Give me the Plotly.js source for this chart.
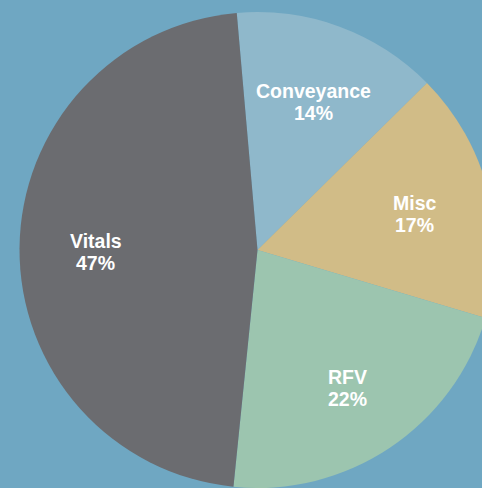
<!DOCTYPE html>
<html>
<head>
<meta charset="utf-8">
<script src="https://cdn.plot.ly/plotly-3.0.1.min.js"></script>
<style>
html,body{margin:0;padding:0;overflow:hidden;background:#6fa7c2;}
#chart{width:496px;height:488px;}
</style>
</head>
<body>
<div id="chart"></div>
<script>
const categories = ["Conveyance", "Misc", "RFV", "Vitals"];
const shares = [14, 17, 22, 47];
const sliceColors = ["#8fb8cb", "#d1bc87", "#9cc5af", "#6b6c70"];

const W = 496, H = 488;
const CX = 257.5, CY = 250, R = 238;   // pie centre and radius in px
const ROT = -5;                         // start angle (deg, clockwise from 12 o'clock)
const LABEL_R = 0.68;                   // label distance as fraction of radius
const LABEL_DY = 3.5;                   // small downward nudge of label blocks (px)

const trace = {
  type: "pie",
  labels: categories,
  values: shares,
  sort: false,
  direction: "clockwise",
  rotation: ROT,
  marker: {colors: sliceColors, line: {width: 0}},
  textinfo: "none",
  hoverinfo: "none",
  showlegend: false,
  domain: {x: [(CX - R) / W, (CX + R) / W], y: [(H - CY - R) / H, (H - CY + R) / H]}
};

// labels placed along each slice's mid angle
const total = shares.reduce((a, b) => a + b, 0);
const annotations = [];
const font = {family: "Liberation Sans, Arial, sans-serif", size: 19.5, color: "#ffffff"};
let acc = 0;
categories.forEach((c, i) => {
  const mid = (ROT + (acc + shares[i] / 2) / total * 360) * Math.PI / 180;
  acc += shares[i];
  const px = CX + R * LABEL_R * Math.sin(mid);
  const py = CY - R * LABEL_R * Math.cos(mid) + LABEL_DY;
  const base = {xref: "paper", yref: "paper", x: px / W, y: 1 - py / H,
    xanchor: "center", yanchor: "middle", showarrow: false, font: font};
  annotations.push(Object.assign({}, base, {text: "<b>" + c + "</b>", yshift: 11}));
  annotations.push(Object.assign({}, base, {text: "<b>" + shares[i] + "%</b>", yshift: -11}));
});

Plotly.newPlot("chart", [trace], {
  width: W, height: H,
  margin: {l: 0, r: 0, t: 0, b: 0},
  paper_bgcolor: "#6fa7c2",
  showlegend: false,
  annotations: annotations
}, {displayModeBar: false, staticPlot: true});
</script>
</body>
</html>
